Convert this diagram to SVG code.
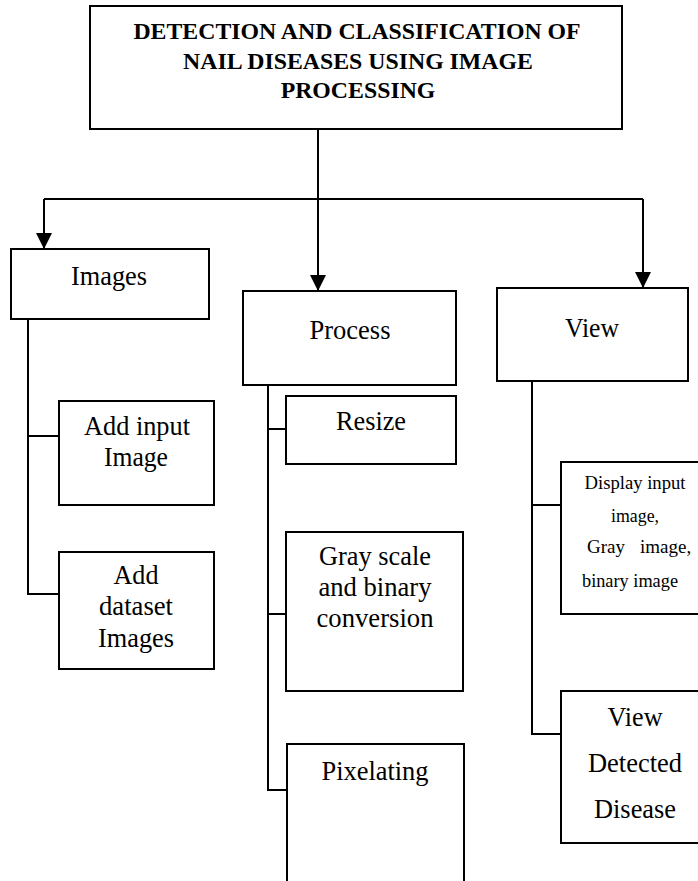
<svg xmlns="http://www.w3.org/2000/svg" width="698" height="881" viewBox="0 0 698 881">
<style>
.box{fill:#fff;stroke:#000;stroke-width:2}
.t{font-family:"Liberation Serif","Times New Roman",serif;fill:#000;text-anchor:middle}
.title{font-size:23.8px;font-weight:bold}
.lbl{font-size:28px}
.sm{font-size:19px}
.ln{fill:none;stroke:#000;stroke-width:2}
</style>
<defs>
<marker id="arr" markerUnits="userSpaceOnUse" markerWidth="16" markerHeight="20" refX="16" refY="8" orient="auto">
<path d="M0,0 L16,8 L0,16 Z" fill="#000"/>
</marker>
</defs>
<rect width="698" height="881" fill="#fff"/>
<g id="connectors">
<polyline class="ln" points="318,129 318,199"/>
<polyline class="ln" points="44,199 643,199"/>
<line class="ln" x1="44" y1="199" x2="44" y2="249" marker-end="url(#arr)"/>
<line class="ln" x1="318" y1="199" x2="318" y2="291" marker-end="url(#arr)"/>
<line class="ln" x1="643" y1="199" x2="643" y2="288" marker-end="url(#arr)"/>
<polyline class="ln" points="28,319 28,594 59,594"/>
<line class="ln" x1="28" y1="436" x2="59" y2="436"/>
<polyline class="ln" points="268,385 268,790 287,790"/>
<line class="ln" x1="268" y1="429" x2="286" y2="429"/>
<line class="ln" x1="268" y1="614" x2="286" y2="614"/>
<polyline class="ln" points="532,381 532,734 561,734"/>
<line class="ln" x1="532" y1="505" x2="561" y2="505"/>
</g>
<g id="title">
<rect class="box" x="90" y="6" width="532" height="123"/>
<text class="t title" x="357" y="39">DETECTION AND CLASSIFICATION OF</text>
<text class="t title" x="358" y="69">NAIL DISEASES USING IMAGE</text>
<text class="t title" x="358" y="98">PROCESSING</text>
</g>
<g id="images">
<rect class="box" x="11" y="249" width="198" height="70"/>
<text class="t lbl" x="109" y="285" textLength="76" lengthAdjust="spacingAndGlyphs">Images</text>
</g>
<g id="process">
<rect class="box" x="243" y="291" width="213" height="94"/>
<text class="t lbl" x="350" y="339" textLength="81" lengthAdjust="spacingAndGlyphs">Process</text>
</g>
<g id="view">
<rect class="box" x="497" y="288" width="191" height="93"/>
<text class="t lbl" x="592" y="337" textLength="54" lengthAdjust="spacingAndGlyphs">View</text>
</g>
<g id="add-input">
<rect class="box" x="59" y="401" width="155" height="104"/>
<text class="t lbl" x="137" y="435" textLength="106" lengthAdjust="spacingAndGlyphs">Add input</text>
<text class="t lbl" x="136" y="466" textLength="64" lengthAdjust="spacingAndGlyphs">Image</text>
</g>
<g id="add-dataset">
<rect class="box" x="59" y="552" width="155" height="117"/>
<text class="t lbl" x="136" y="584" textLength="45" lengthAdjust="spacingAndGlyphs">Add</text>
<text class="t lbl" x="136" y="615" textLength="74" lengthAdjust="spacingAndGlyphs">dataset</text>
<text class="t lbl" x="136" y="647" textLength="76" lengthAdjust="spacingAndGlyphs">Images</text>
</g>
<g id="resize">
<rect class="box" x="286" y="396" width="170" height="68"/>
<text class="t lbl" x="371" y="430" textLength="70" lengthAdjust="spacingAndGlyphs">Resize</text>
</g>
<g id="grayscale">
<rect class="box" x="286" y="532" width="177" height="159"/>
<text class="t lbl" x="375" y="565" textLength="112" lengthAdjust="spacingAndGlyphs">Gray scale</text>
<text class="t lbl" x="375" y="596" textLength="113" lengthAdjust="spacingAndGlyphs">and binary</text>
<text class="t lbl" x="375" y="627" textLength="117" lengthAdjust="spacingAndGlyphs">conversion</text>
</g>
<g id="pixelating">
<rect class="box" x="287" y="744" width="177" height="160"/>
<text class="t lbl" x="375" y="780" textLength="107" lengthAdjust="spacingAndGlyphs">Pixelating</text>
</g>
<g id="display">
<rect class="box" x="561" y="462" width="160" height="152"/>
<text class="t sm" x="635" y="489" textLength="101" lengthAdjust="spacingAndGlyphs">Display input</text>
<text class="t sm" x="635" y="522" textLength="48" lengthAdjust="spacingAndGlyphs">image,</text>
<text class="t sm" style="text-anchor:start" y="553"><tspan x="587">Gray</tspan><tspan x="640">image,</tspan></text>
<text class="t sm" x="630" y="587" textLength="96" lengthAdjust="spacingAndGlyphs">binary image</text>
</g>
<g id="view-detected">
<rect class="box" x="561" y="691" width="160" height="152"/>
<text class="t lbl" x="635" y="726" textLength="55" lengthAdjust="spacingAndGlyphs">View</text>
<text class="t lbl" x="635" y="772" textLength="94" lengthAdjust="spacingAndGlyphs">Detected</text>
<text class="t lbl" x="635" y="818" textLength="82" lengthAdjust="spacingAndGlyphs">Disease</text>
</g>
</svg>
